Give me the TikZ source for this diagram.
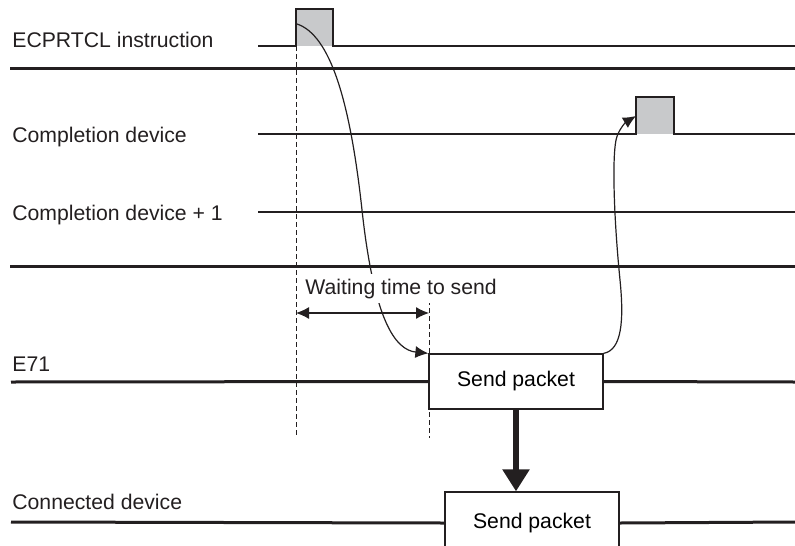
\documentclass[tikz,border=0pt]{standalone}
\usepackage{fontspec}
\setmainfont{Liberation Sans}
\usetikzlibrary{arrows.meta, positioning, calc}
\definecolor{tmBlack}{HTML}{231F20}
\definecolor{tmGray}{HTML}{C8C9CB}

\begin{document}
\begin{tikzpicture}[x=0.5pt, y=-0.5pt,
  font=\fontsize{10.6}{12.7}\selectfont,
  signame/.style={anchor=base west, inner sep=0pt, text=tmBlack},
  sig/.style={line width=0.65pt, tmBlack},
  bus/.style={line width=1.5pt, tmBlack},
  packet/.style={draw=tmBlack, fill=white, line width=0.65pt,
    minimum width=87pt, minimum height=27.5pt, inner sep=0pt},
  guide/.style={dash pattern=on 2.5pt off 1.5pt, line width=0.5pt, tmBlack},
  arr/.style={-{Latex[length=6.5pt,width=6pt]}, line width=0.6pt, tmBlack},
  span/.style={{Latex[length=6.5pt,width=6pt]}-{Latex[length=6.5pt,width=6pt]},
    line width=0.6pt, tmBlack},
  bigarr/.style={-{Triangle[length=11pt,width=13pt]}, line width=3pt, tmBlack}]

  \useasboundingbox (0,0) rectangle (795,545);

  % Signal names
  \node[signame] (ecp)  at (12,48)  {ECPRTCL instruction};
  \node[signame] (cpl)  at (12,142) {Completion device};
  \node[signame] (cpl1) at (12,220) {Completion device + 1};
  \node[signame] (e71)  at (12,371) {E71};
  \node[signame] (dev)  at (12,509) {Connected device};

  % Pulses
  \fill[tmGray] (296,9) rectangle (333,46);
  \fill[tmGray] (636,97) rectangle (674,134);
  \draw[sig] (258,46) -- (296,46) -- (296,9) -- (333,9) -- (333,46) -- (795,46);
  \draw[sig] (258,134) -- (636,134) -- (636,97) -- (674,97) -- (674,134) -- (795,134);
  \draw[sig] (258,212) -- (795,212);
  \coordinate (req)  at (297,24);
  \coordinate (done) at (636,116);

  % Separators
  \draw[bus] (10,69) -- (795,69);
  \draw[bus] (10,266) -- (795,266);

  % Packets
  \node[packet] (send) at (516,381.5) {Send packet};
  \node[packet, minimum height=31pt] (recv) at (532,523) {Send packet};
  \draw[bus] (11,382) -- (send.west);
  \draw[bus] (send.east) -- (795,382);
  \draw[bus] (11,522) -- (recv.west);
  \draw[bus] (recv.east) -- (795,522);
  \draw[bigarr] (send.south) -- (send.south |- recv.north);

  % Waiting time
  \coordinate (wl) at (296,313);
  \coordinate (wr) at (429,313);
  \draw[guide] (296,46) -- (296,438);
  \draw[guide] (429,300) -- (429,438);
  \draw[arr] (req) .. controls (330,35) and (350,100) .. (362,210)
    .. controls (374,320) and (395,350) .. (send.north west);
  \node[signame, fill=white, inner xsep=1pt, inner ysep=2.5pt] (wait) at (303,294)
    {Waiting time to send};
  \draw[span] (wl) -- (wr);

  % Completion
  \draw[arr] (send.north east) .. controls (622,350) and (624,320) .. (620,280)
    .. controls (614,220) and (612,160) .. (616,140)
    .. controls (618,130) and (626,122) .. (done);
\end{tikzpicture}
\end{document}
